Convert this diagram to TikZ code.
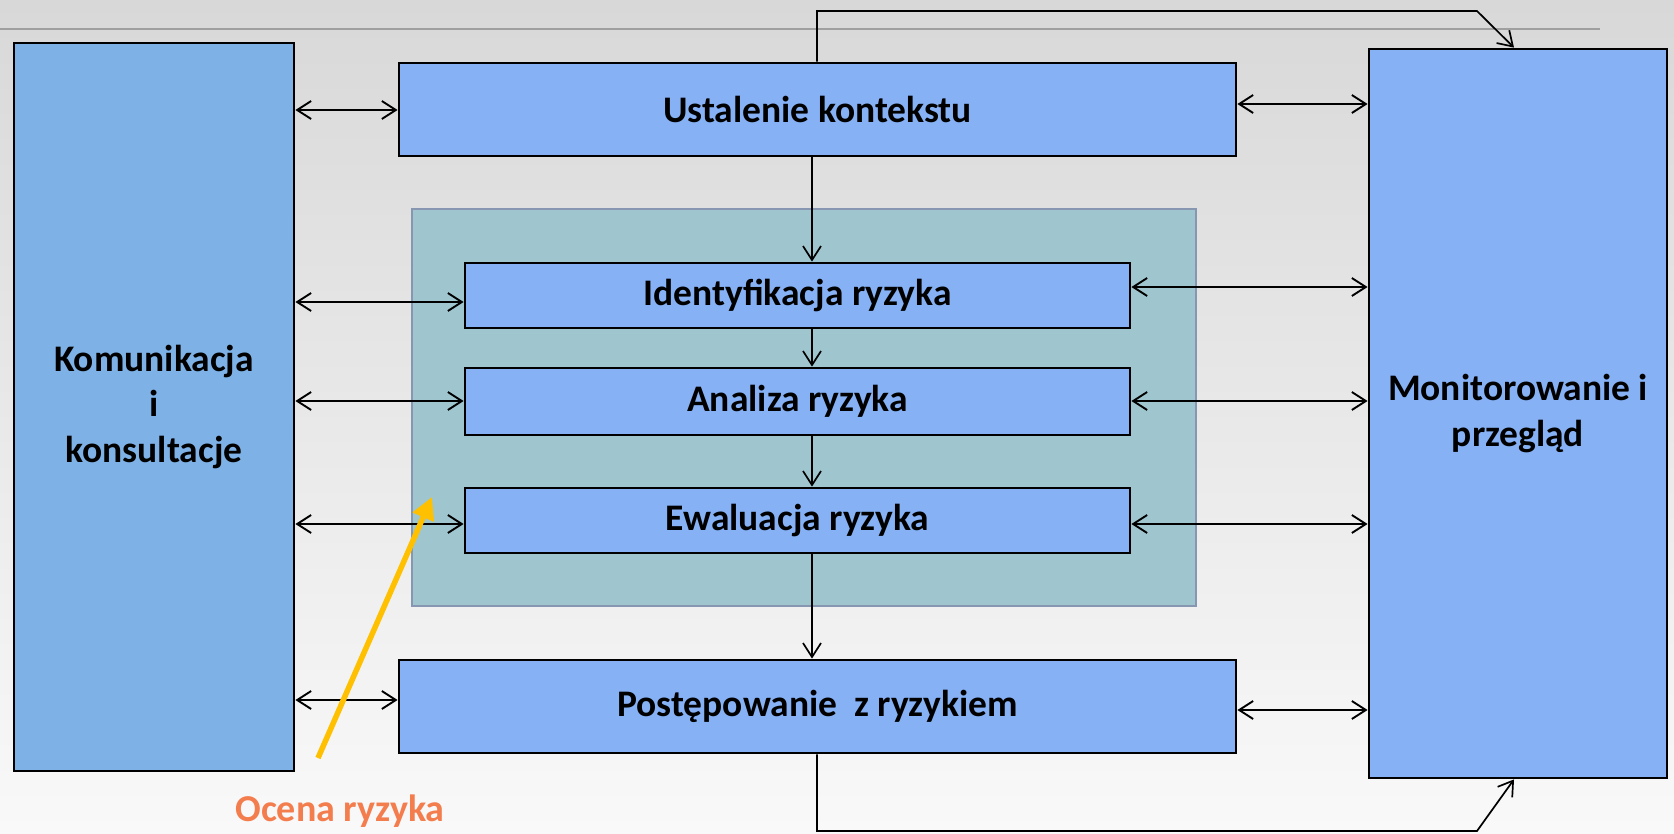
\documentclass[tikz,border=0pt]{standalone}
\usepackage{fontspec}
\setmainfont{Carlito}
\usetikzlibrary{arrows.meta,calc}
\definecolor{bgtop}{HTML}{D8D8D8}
\definecolor{bgbot}{HTML}{F9F9F9}
\definecolor{komblue}{HTML}{7EB1E5}
\definecolor{boxblue}{HTML}{86B1F5}
\definecolor{tealfill}{HTML}{9FC6CF}
\definecolor{tealborder}{HTML}{8797B2}
\definecolor{yel}{HTML}{FFC000}
\definecolor{orng}{HTML}{F47D4E}
\tikzset{
  box/.style={draw=black, line width=2.8pt, fill=boxblue, font=\bfseries\fontsize{37.5}{45.5}\selectfont, align=center, inner sep=0pt},
  dbl/.style={line width=1.9pt, {Straight Barb[length=14pt,width=18pt,line width=1.9pt]}-{Straight Barb[length=14pt,width=18pt,line width=1.9pt]}},
  sgl/.style={line width=1.7pt, -{Straight Barb[length=14pt,width=18pt,line width=1.7pt]}},
}
\begin{document}
\begin{tikzpicture}[x=1pt,y=-1pt]
\useasboundingbox (0,0) rectangle (1674,833);
\shade[top color=bgtop, bottom color=bgbot] (0,0) rectangle (1674,833);
\draw[line width=2pt, color=gray!75] (0,29) -- (1600,29);

\node[draw=tealborder, line width=1.5pt, fill=tealfill, minimum width=784pt, minimum height=397pt, inner sep=0pt] (ocena) at (804,407.5) {};

\node[box, fill=komblue, minimum width=280pt, minimum height=728pt] (kom) at (154,407) {Komunikacja\\i\\konsultacje};
\node[box, minimum width=837pt, minimum height=93pt] (ust) at (817.5,109.5) {Ustalenie kontekstu};
\node[box, minimum width=665pt, minimum height=65pt] (ident) at (797.5,295.5) {Identyfikacja ryzyka};
\node[box, minimum width=665pt, minimum height=67pt] (anal) at (797.5,401.5) {Analiza ryzyka};
\node[box, minimum width=665pt, minimum height=65pt] (ewal) at (797.5,520.5) {Ewaluacja ryzyka};
\node[box, minimum width=837pt, minimum height=93pt] (post) at (817.5,706.5) {Postępowanie~ z ryzykiem};
\node[box, minimum width=298pt, minimum height=729pt] (mon) at (1518,413.5) {Monitorowanie i\\przegląd};

\node[font=\bfseries\fontsize{38}{42}\selectfont, text=orng] (oclab) at (340,811) {Ocena ryzyka};

% left arrows
\draw[dbl] (kom.east |- 0,110) -- (ust.west |- 0,110);
\draw[dbl] (kom.east |- 0,302) -- (ident.west |- 0,302);
\draw[dbl] (kom.east |- 0,401) -- (anal.west |- 0,401);
\draw[dbl] (kom.east |- 0,524) -- (ewal.west |- 0,524);
\draw[dbl] (kom.east |- 0,700) -- (post.west |- 0,700);
% right arrows
\draw[dbl] (ust.east |- 0,104) -- (mon.west |- 0,104);
\draw[dbl] (ident.east |- 0,287) -- (mon.west |- 0,287);
\draw[dbl] (anal.east |- 0,401) -- (mon.west |- 0,401);
\draw[dbl] (ewal.east |- 0,524) -- (mon.west |- 0,524);
\draw[dbl] (post.east |- 0,710) -- (mon.west |- 0,710);
% vertical flow
\draw[sgl] (ust.south -| 812,0) -- (ident.north -| 812,0);
\draw[sgl] (ident.south -| 812,0) -- (anal.north -| 812,0);
\draw[sgl] (anal.south -| 812,0) -- (ewal.north -| 812,0);
\draw[sgl] (ewal.south -| 812,0) -- (post.north -| 812,0);
% loops to monitoring
\coordinate (t1) at (817,11);
\coordinate (t2) at (1477,11);
\coordinate (b1) at (817,831);
\coordinate (b2) at (1477,831);
\draw[sgl] (ust.north -| t1) -- (t1) -- (t2) -- (mon.north -| 1514,0);
\draw[sgl] (post.south -| b1) -- (b1) -- (b2) -- (mon.south -| 1514,0);
% yellow pointer
\coordinate (ytip) at (432,497);
\draw[line width=5.5pt, color=yel, -{Triangle[length=22pt,width=22pt]}] (318,758) -- (ytip);
\end{tikzpicture}
\end{document}
